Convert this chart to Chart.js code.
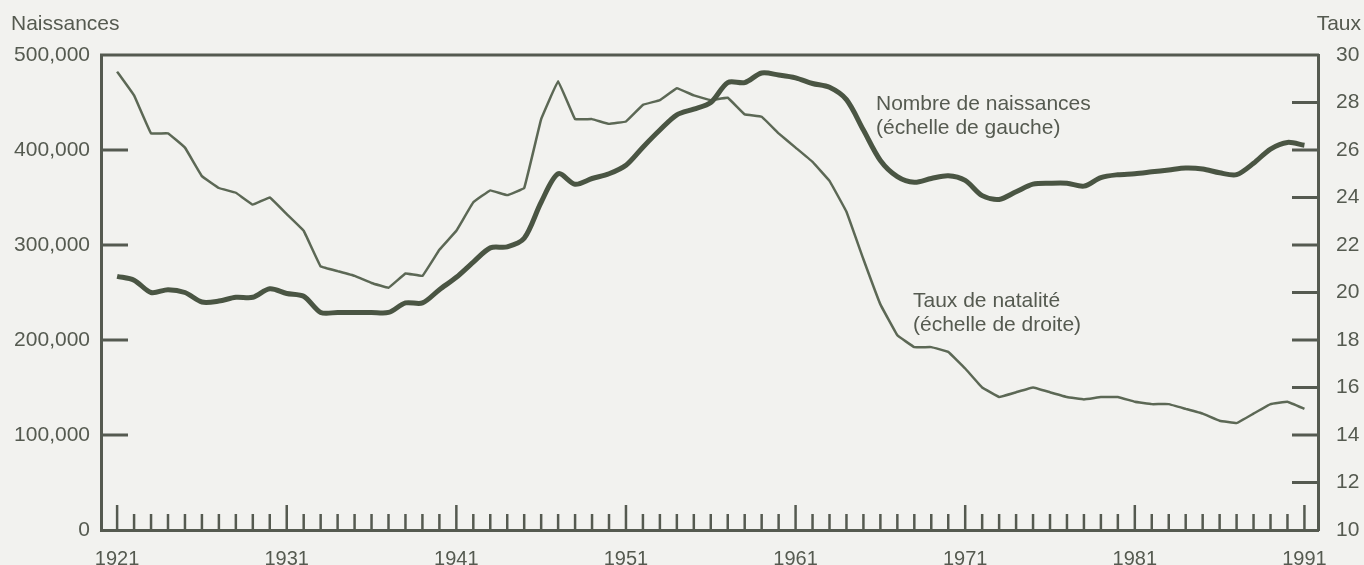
<!DOCTYPE html>
<html>
<head>
<meta charset="utf-8">
<script src="https://cdn.jsdelivr.net/npm/chart.js@4/dist/chart.umd.min.js"></script>
<style>
    body { margin: 0; background: #f2f2ef; }
    #wrap { width: 1364px; height: 565px; }
</style>
</head>
<body>
<div id="wrap"><canvas id="birthChart" width="1364" height="565"></canvas></div>
<script>
// Years 1921 - 1991
const years = [];
for (let yr = 1921; yr <= 1991; yr++) years.push(yr);

// Number of births (left scale)
const births = [
    267000, 263000, 250000, 253000, 250000, 240000, 241000, 245000, 245000, 254000,
    249000, 246000, 229000, 229000, 229000, 229000, 229000, 239000, 239000, 253000,
    266000, 282000, 297000, 298000, 307000, 345000, 375000, 364000, 370000, 375000,
    384000, 403000, 421000, 437000, 443000, 450000, 471000, 471000, 481000, 479000,
    476000, 470000, 466000, 453000, 421000, 389000, 372000, 366000, 370000, 373000,
    368000, 352000, 348000, 356000, 364000, 365000, 365000, 362000, 371000, 374000,
    375000, 377000, 379000, 381000, 380000, 376000, 374000, 386000, 401000, 408000,
    405000
];

// Birth rate per 1,000 (right scale)
const rates = [
    29.3, 28.3, 26.7, 26.7, 26.1, 24.9, 24.4, 24.2, 23.7, 24.0,
    23.3, 22.6, 21.1, 20.9, 20.7, 20.4, 20.2, 20.8, 20.7, 21.8,
    22.6, 23.8, 24.3, 24.1, 24.4, 27.3, 28.9, 27.3, 27.3, 27.1,
    27.2, 27.9, 28.1, 28.6, 28.3, 28.1, 28.2, 27.5, 27.4, 26.7,
    26.1, 25.5, 24.7, 23.4, 21.4, 19.5, 18.2, 17.7, 17.7, 17.5,
    16.8, 16.0, 15.6, 15.8, 16.0, 15.8, 15.6, 15.5, 15.6, 15.6,
    15.4, 15.3, 15.3, 15.1, 14.9, 14.6, 14.5, 14.9, 15.3, 15.4,
    15.1
];

const yearLabels = [1921, 1931, 1941, 1951, 1961, 1971, 1981, 1991];
const birthTicks = [0, 100000, 200000, 300000, 400000, 500000];
const rateTicks = [10, 12, 14, 16, 18, 20, 22, 24, 26, 28, 30];

const inkColor = '#555a50';
const birthColor = '#4a5543';
const rateColor = '#5c6855';

Chart.defaults.font.family = '"Liberation Sans", Arial, Helvetica, sans-serif';
Chart.defaults.font.size = 21;
Chart.defaults.color = inkColor;

// Frame, inside tick marks and the text notes
const decorations = {
    id: 'decorations',
    afterDatasetsDraw(chart) {
        const { ctx, chartArea: a, scales: { x, y, y1 } } = chart;
        ctx.save();
        ctx.strokeStyle = inkColor;
        ctx.lineWidth = 3;
        ctx.lineCap = 'butt';

        // top border
        ctx.beginPath();
        ctx.moveTo(a.left - 1, a.top);
        ctx.lineTo(a.right + 1, a.top);
        ctx.stroke();

        // year ticks
        ctx.lineWidth = 2.5;
        years.forEach(yr => {
            const px = x.getPixelForValue(yr);
            const len = (yr - 1921) % 10 === 0 ? 25 : 16;
            ctx.beginPath();
            ctx.moveTo(px, a.bottom);
            ctx.lineTo(px, a.bottom - len);
            ctx.stroke();
        });

        // left ticks
        ctx.lineWidth = 3;
        birthTicks.slice(1, -1).forEach(v => {
            const py = y.getPixelForValue(v);
            ctx.beginPath();
            ctx.moveTo(a.left, py);
            ctx.lineTo(a.left + 27, py);
            ctx.stroke();
        });

        // right ticks
        rateTicks.slice(1, -1).forEach(v => {
            const py = y1.getPixelForValue(v);
            ctx.beginPath();
            ctx.moveTo(a.right, py);
            ctx.lineTo(a.right - 26, py);
            ctx.stroke();
        });

        // texts
        ctx.fillStyle = inkColor;
        ctx.font = '21px "Liberation Sans", Arial, sans-serif';
        ctx.textBaseline = 'alphabetic';
        ctx.textAlign = 'left';
        ctx.fillText('Naissances', 11, 30);
        ctx.fillText('Nombre de naissances', 876, 110);
        ctx.fillText('(échelle de gauche)', 876, 134);
        ctx.fillText('Taux de natalité', 913, 307);
        ctx.fillText('(échelle de droite)', 913, 331);
        ctx.textAlign = 'right';
        ctx.fillText('Taux', 1361, 30);
        ctx.restore();
    }
};

const ctx = document.getElementById('birthChart').getContext('2d');
new Chart(ctx, {
    type: 'line',
    data: {
        datasets: [
            {
                label: 'Nombre de naissances',
                data: years.map((yr, i) => ({ x: yr, y: births[i] })),
                yAxisID: 'y',
                borderColor: birthColor,
                borderWidth: 5,
                pointRadius: 0,
                tension: 0.3,
                borderJoinStyle: 'round'
            },
            {
                label: 'Taux de natalité',
                data: years.map((yr, i) => ({ x: yr, y: rates[i] })),
                yAxisID: 'y1',
                borderColor: rateColor,
                borderWidth: 2.5,
                pointRadius: 0,
                tension: 0.05
            }
        ]
    },
    options: {
        responsive: false,
        animation: false,
        layout: { padding: { top: 55, left: 0, right: 0, bottom: 0 } },
        plugins: {
            legend: { display: false },
            tooltip: { enabled: false }
        },
        scales: {
            x: {
                type: 'linear',
                min: 1920.05,
                max: 1991.8,
                afterBuildTicks: scale => { scale.ticks = yearLabels.map(v => ({ value: v })); },
                afterFit: scale => { scale.height = 35; },
                grid: { display: false, drawTicks: false },
                border: { display: true, color: inkColor, width: 3 },
                ticks: { padding: 17, maxRotation: 0, autoSkip: false, font: { size: 20 }, callback: v => String(v) }
            },
            y: {
                position: 'left',
                min: 0,
                max: 500000,
                afterBuildTicks: scale => { scale.ticks = birthTicks.map(v => ({ value: v })); },
                afterFit: scale => { scale.width = 101; },
                grid: { display: false, drawTicks: false },
                border: { display: true, color: inkColor, width: 3 },
                ticks: { padding: 11, callback: v => v.toLocaleString('en-US') }
            },
            y1: {
                position: 'right',
                min: 10,
                max: 30,
                afterBuildTicks: scale => { scale.ticks = rateTicks.map(v => ({ value: v })); },
                afterFit: scale => { scale.width = 46; },
                grid: { display: false, drawTicks: false },
                border: { display: true, color: inkColor, width: 3 },
                ticks: { padding: 18 }
            }
        }
    },
    plugins: [decorations]
});
</script>
</body>
</html>
